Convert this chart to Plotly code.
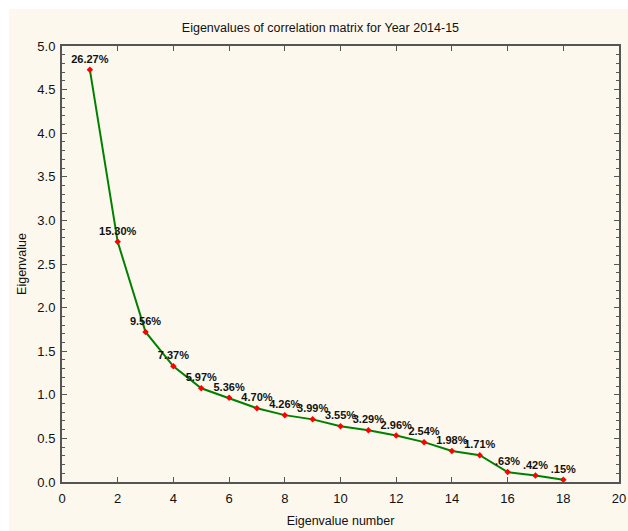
import plotly.graph_objects as go

# Scree data: eigenvalue number, eigenvalue, share of total variance
components = list(range(1, 19))
eigenvalues = [4.7286, 2.7540, 1.7208, 1.3266, 1.0746, 0.9648, 0.8460, 0.7668, 0.7182,
               0.6390, 0.5922, 0.5328, 0.4572, 0.3564, 0.3078, 0.1134, 0.0756, 0.0270]
pct_labels = ["26.27%", "15.30%", "9.56%", "7.37%", "5.97%", "5.36%", "4.70%", "4.26%",
              "3.99%", "3.55%", "3.29%", "2.96%", "2.54%", "1.98%", "1.71%", ".63%",
              ".42%", ".15%"]

FONT = "Liberation Sans, Arial, sans-serif"
AXIS = "#555555"

fig = go.Figure()
fig.add_trace(go.Scatter(
    x=components, y=eigenvalues,
    mode="lines+markers+text",
    line=dict(color="#008000", width=2),
    marker=dict(color="#ff0000", size=5, symbol="diamond"),
    text=pct_labels,
    textposition="top center",
    textfont=dict(family=FONT, size=11, color="#111111", weight="bold"),
    cliponaxis=False,
    hoverinfo="x+y",
))

axis_common = dict(
    showline=True, linecolor=AXIS, linewidth=2, mirror="ticks",
    ticks="inside", ticklen=5, tickcolor=AXIS, tickwidth=1,
    showgrid=False, zeroline=False, automargin=False,
    tickfont=dict(family=FONT, size=13, color="#111111"),
)

fig.update_xaxes(
    range=[0, 20], dtick=2, tick0=0, ticklabelstandoff=3,
    title=dict(text="Eigenvalue number", font=dict(family=FONT, size=12.5, color="#111111"),
               standoff=12),
    **axis_common,
)
fig.update_yaxes(
    range=[0, 5], dtick=0.5, tick0=0, tickformat=".1f", ticklabelstandoff=2,
    minor=dict(ticks="inside", dtick=0.1, ticklen=3, tickcolor=AXIS),
    title=dict(text="Eigenvalue", font=dict(family=FONT, size=12.5, color="#111111"),
               standoff=8),
    **axis_common,
)

fig.update_layout(
    width=628, height=531,
    margin=dict(l=62, r=9, t=46, b=49),
    paper_bgcolor="white",
    plot_bgcolor="white",
    showlegend=False,
    title=dict(text="Eigenvalues of correlation matrix for Year 2014-15",
               font=dict(family=FONT, size=12.5, color="#111111"),
               xref="paper", x=0.464, xanchor="center",
               yref="container", y=1 - 28 / 531, yanchor="middle"),
    shapes=[dict(type="rect", xref="paper", yref="paper", layer="below",
                 x0=-53 / 557, x1=9 / 557 + 1, y0=-49 / 436, y1=1 + 37 / 436,
                 fillcolor="#fcf8ee", line=dict(width=0))],
)

fig.write_html("out.html")
